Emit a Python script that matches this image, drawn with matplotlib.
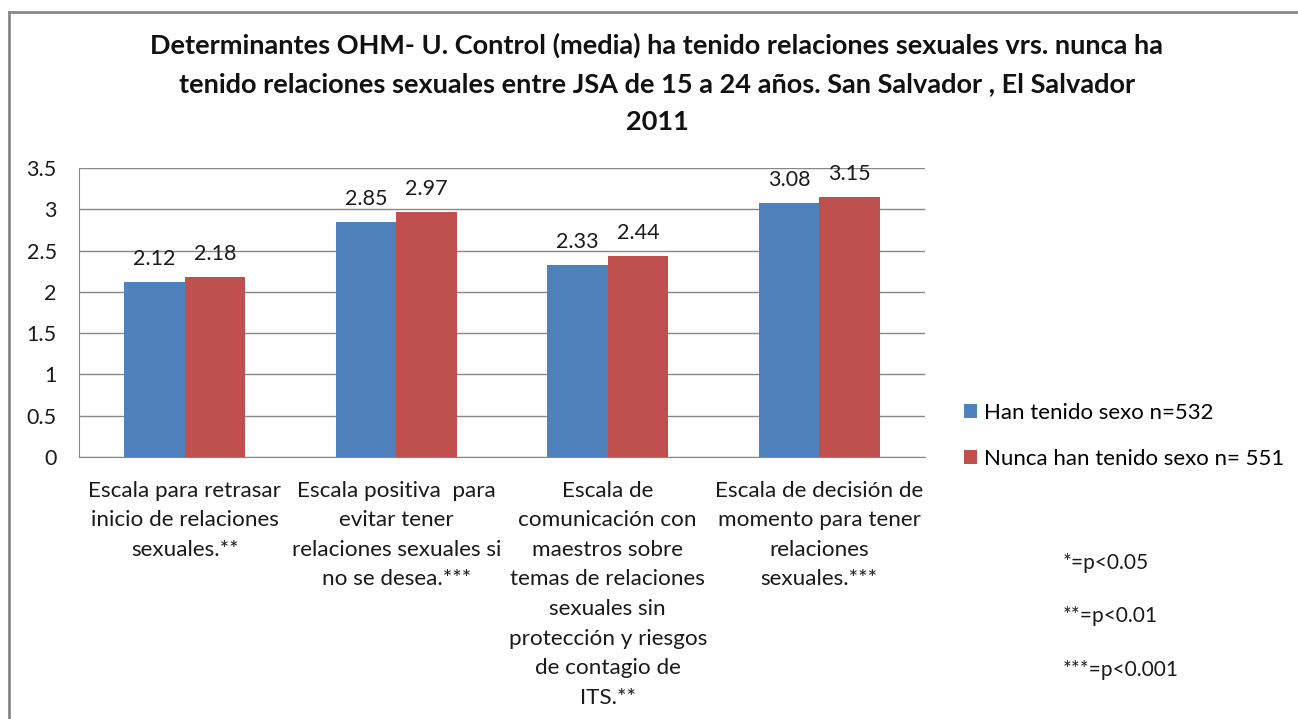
import matplotlib
matplotlib.use("Agg")
import matplotlib.pyplot as plt
from matplotlib.lines import Line2D
import numpy as np

plt.rcParams['font.family'] = ['Lato', 'DejaVu Sans']

categories = [
    "Escala para retrasar\ninicio de relaciones\nsexuales.**",
    "Escala positiva  para\nevitar tener\nrelaciones sexuales si\nno se desea.***",
    "Escala de\ncomunicación con\nmaestros sobre\ntemas de relaciones\nsexuales sin\nprotección y riesgos\nde contagio de\nITS.**",
    "Escala de decisión de\nmomento para tener\nrelaciones\nsexuales.***",
]
series_names = ["Han tenido sexo n=532", "Nunca han tenido sexo n= 551"]
han_tenido = [2.12, 2.85, 2.33, 3.08]
nunca = [2.18, 2.97, 2.44, 3.15]
yticks = [0, 0.5, 1, 1.5, 2, 2.5, 3, 3.5]
ytick_labels = ["0", "0.5", "1", "1.5", "2", "2.5", "3", "3.5"]
notes = ["*=p<0.05", "**=p<0.01", "***=p<0.001"]
title = ("Determinantes OHM- U. Control (media) ha tenido relaciones sexuales vrs. nunca ha\n"
         "tenido relaciones sexuales entre JSA de 15 a 24 años. San Salvador , El Salvador\n"
         "2011")

W, H = 1298, 719
fig = plt.figure(figsize=(W / 100, H / 100), dpi=100)
ax = fig.add_axes([79 / W, (H - 457) / H, 846 / W, (457 - 168) / H])

x = np.arange(len(categories))
bw = 1 / 3.5
b1 = ax.bar(x - bw / 2, han_tenido, bw, color="#4F81BD", label=series_names[0], zorder=3)
b2 = ax.bar(x + bw / 2, nunca, bw, color="#C0504D", label=series_names[1], zorder=3)
ax.bar_label(b1, labels=[f"{v:.2f}" for v in han_tenido], padding=9, fontsize=15.5, color="#1a1a1a")
ax.bar_label(b2, labels=[f"{v:.2f}" for v in nunca], padding=9, fontsize=15.5, color="#1a1a1a")

ax.set_xlim(-0.5, len(categories) - 0.5)
ax.set_ylim(0, 3.5)
ax.set_yticks(yticks)
ax.set_yticklabels(ytick_labels, fontsize=15.5, color="#1a1a1a")
ax.set_xticks(x)
ax.set_xticklabels(categories, fontsize=16.2, color="#1a1a1a", linespacing=1.6)
ax.tick_params(axis="both", length=0)
ax.tick_params(axis="y", pad=16)
ax.tick_params(axis="x", pad=17)
ax.yaxis.grid(True, color="#888888", linewidth=1, zorder=0)
ax.set_axisbelow(True)
for s in ["top", "right"]:
    ax.spines[s].set_visible(False)
ax.spines["left"].set_color("#888888")
ax.spines["bottom"].set_color("#888888")

leg = fig.legend(handles=[b1, b2], labels=series_names, loc="upper left",
                 bbox_to_anchor=(944 / W, 1 - 383 / H), frameon=False, fontsize=16,
                 handlelength=0.6, handleheight=0.6, handletextpad=0.3, labelspacing=1.15)

for i, n in enumerate(notes):
    fig.text(1063 / W, 1 - (563 + 53.5 * i) / H, n, fontsize=15, va="center", ha="left", color="#1a1a1a")

fig.text(657 / W, 1 - 33 / H, title, fontsize=19.5, fontweight="bold", ha="center", va="top",
         linespacing=1.68, color="#111111")

# outer chart border (top and left visible)
fig.add_artist(Line2D([9 / W, 1.0], [1 - 12 / H] * 2, color="#888888", lw=2, transform=fig.transFigure))
fig.add_artist(Line2D([9 / W] * 2, [0, 1 - 12 / H], color="#888888", lw=2, transform=fig.transFigure))

fig.savefig("out.png", dpi=100)
